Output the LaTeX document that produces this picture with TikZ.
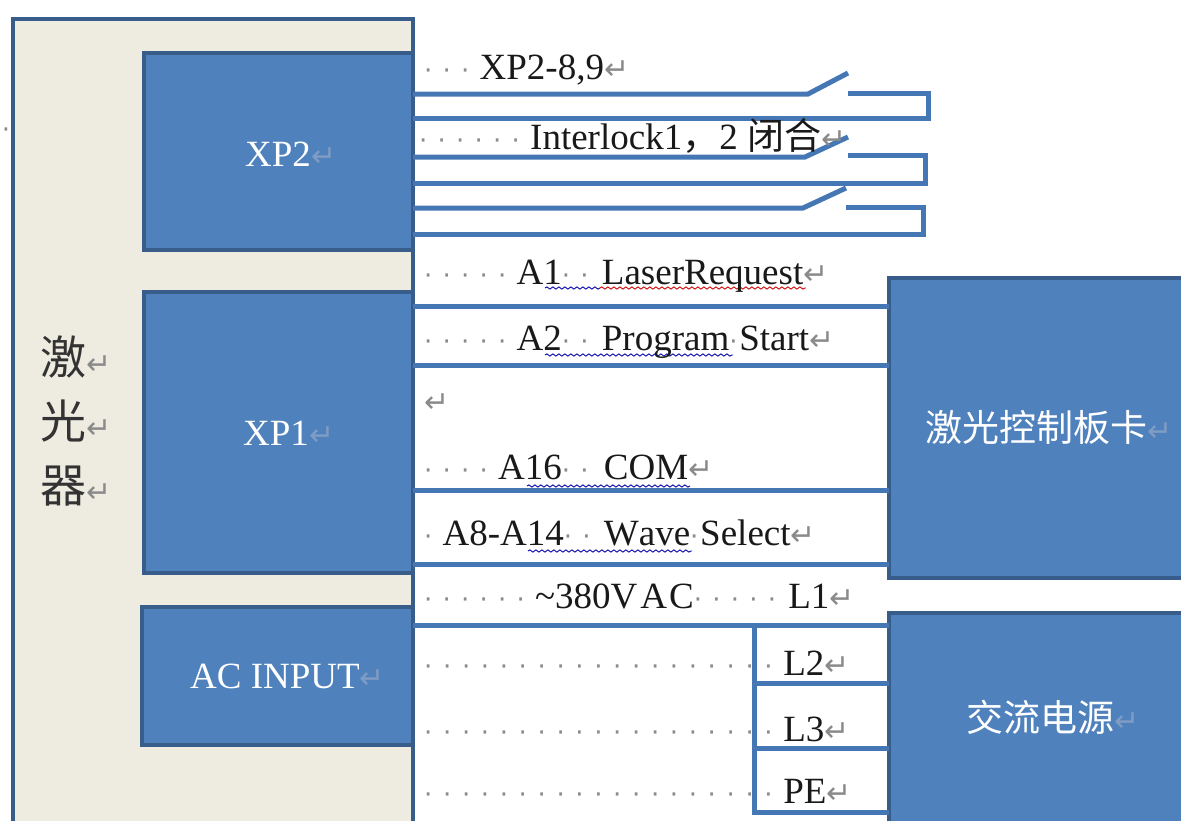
\documentclass[tikz,border=0pt]{standalone}
\usepackage{fontspec}
\setmainfont[Kerning=Off]{Liberation Serif}
\newfontfamily\cjk{Noto Sans CJK SC}
\newfontfamily\symf{DejaVu Sans}
\usetikzlibrary{decorations.pathmorphing}
\definecolor{boxfill}{HTML}{4F81BD}
\definecolor{boxline}{HTML}{385D8A}
\definecolor{wirec}{HTML}{4577B5}
\definecolor{laser}{HTML}{EEECE1}
\definecolor{markc}{HTML}{8A8A8A}
\definecolor{fadec}{HTML}{7F9CC4}
\newcommand{\dt}{\makebox[18.5pt][l]{\textcolor{markc}{\fontsize{26}{28}\selectfont\symf ·}}}
\newcommand{\dtw}{\makebox[18.9pt][l]{\textcolor{markc}{\fontsize{26}{28}\selectfont\symf ·}}}
\newcommand{\dts}{\makebox[10pt][l]{\textcolor{markc}{\fontsize{26}{28}\selectfont\symf ·}}}
\newcommand{\dtn}[1]{\foreach \i in {1,...,#1}{\dt}}
\newcommand{\dtm}[1]{\foreach \i in {1,...,#1}{\dtw}}
\newcommand{\ret}{\textcolor{markc}{\fontsize{30}{32}\selectfont\symf ↵}}
\newcommand{\fret}{\textcolor{fadec}{\fontsize{30}{32}\selectfont\symf ↵}}
\tikzset{
  blockbox/.style={draw=boxline,fill=boxfill,line width=4pt,inner sep=0pt,outer sep=0pt,anchor=north west,line join=miter},
  wire/.style={draw=wirec,line width=5pt,line join=miter,line cap=butt},
  lab/.style={anchor=base west,inner sep=0pt,text=black!90,font=\fontsize{37}{40}\selectfont},
  wlab/.style={anchor=base west,inner sep=0pt,text=white,font=\fontsize{37}{40}\selectfont},
  cjkv/.style={anchor=base west,inner sep=0pt,text=black!80,font=\fontsize{46}{50}\selectfont\cjk},
  bluewave/.style={draw=blue!65!black,line width=0.9pt,decorate,decoration={snake,amplitude=1.1pt,segment length=6pt}},
  redwave/.style={draw=red!80!black,line width=0.9pt,decorate,decoration={snake,amplitude=1.1pt,segment length=6pt}}
}
\begin{document}
\begin{tikzpicture}[x=1pt,y=-1pt]
\useasboundingbox (0,0) rectangle (1181,820);
\fill[white] (0,0) rectangle (1181,820);
% blocks
\node[blockbox,fill=laser,minimum width=400pt,minimum height=830pt] (laserbox) at (12.5,18.5) {};
\node[blockbox,minimum width=269pt,minimum height=197pt] (xp2) at (144,53) {};
\node[blockbox,minimum width=269pt,minimum height=281pt] (xp1) at (144,292) {};
\node[blockbox,minimum width=271pt,minimum height=138pt] (acin) at (142,607) {};
\node[blockbox,minimum width=310pt,minimum height=300pt] (card) at (889,278) {};
\node[blockbox,minimum width=310pt,minimum height=230pt] (power) at (889,613) {};
% wire levels
\coordinate (a1) at (808,94);  \coordinate (a2) at (848,73);
\coordinate (a3) at (848,93);  \coordinate (a4) at (928,93);
\coordinate (a5) at (928,118);
\coordinate (b1) at (805,157); \coordinate (b2) at (848,137);
\coordinate (b3) at (848,155); \coordinate (b4) at (925,155);
\coordinate (b5) at (925,183);
\coordinate (c1) at (803,208); \coordinate (c2) at (846,188);
\coordinate (c3) at (846,207); \coordinate (c4) at (923,207);
\coordinate (c5) at (923,234);
\coordinate (w1) at (0,306);
\coordinate (w2) at (0,365);
\coordinate (w3) at (0,490);
\coordinate (w4) at (0,564);
\coordinate (w5) at (0,625);
\coordinate (w6) at (754,625);
\coordinate (w7) at (754,683);
\coordinate (w8) at (754,748);
\coordinate (w9) at (754,812);
% XP2 interlock switches
\draw[wire] (xp2.east |- a1) -- (a1) -- (a2);
\draw[wire] (a3) -- (a4) -- (a5) -- (xp2.east |- a5);
\draw[wire] (xp2.east |- b1) -- (b1) -- (b2);
\draw[wire] (b3) -- (b4) -- (b5) -- (xp2.east |- b5);
\draw[wire] (xp2.east |- c1) -- (c1) -- (c2);
\draw[wire] (c3) -- (c4) -- (c5) -- (xp2.east |- c5);
% XP1 to card
\draw[wire] (xp1.east |- w1) -- (card.west |- w1);
\draw[wire] (xp1.east |- w2) -- (card.west |- w2);
\draw[wire] (xp1.east |- w3) -- (card.west |- w3);
\draw[wire] (xp1.east |- w4) -- (card.west |- w4);
% AC input to power
\draw[wire] (acin.east |- w5) -- (power.west |- w5);
\draw[wire,line cap=rect] (w6) -- (w9);
\draw[wire] (w7) -- (power.west |- w7);
\draw[wire] (w8) -- (power.west |- w8);
\draw[wire] (w9) -- (power.west |- w9);
% spell-check underlines
\coordinate (u1) at (545,288); \coordinate (u2) at (600,288); \coordinate (u3) at (806,288);
\coordinate (u4) at (545,355); \coordinate (u5) at (733,355);
\coordinate (u6) at (527,486); \coordinate (u7) at (690,486);
\coordinate (u8) at (528,551); \coordinate (u9) at (692,551);
\draw[bluewave] (u1) -- (u2);
\draw[redwave] (u2) -- (u3);
\draw[bluewave] (u4) -- (u5);
\draw[bluewave] (u6) -- (u7);
\draw[bluewave] (u8) -- (u9);
% block labels
\node[wlab] (t1) at (245,166) {XP2\fret};
\node[wlab] (t2) at (243,445) {XP1\fret};
\node[wlab] (t3) at (190,688) {AC INPUT\fret};
\node[wlab,font=\fontsize{37}{40}\selectfont\cjk] (t4) at (925,441) {激光控制板卡\fret};
\node[wlab,font=\fontsize{37}{40}\selectfont\cjk] (t5) at (966,731) {交流电源\fret};
\node[cjkv] (v1) at (40,374) {激\ret};
\node[cjkv] (v2) at (40,438) {光\ret};
\node[cjkv] (v3) at (40,502) {器\ret};
\node[inner sep=0pt,text=markc,font=\fontsize{26}{28}\selectfont\symf] (d0) at (6,133) {·};
% wire labels
\node[lab] (l1) at (424,79) {\dtn{3}XP2-8,9\ret};
\node[lab] (l2) at (419,149) {\dtn{6}Interlock1{\cjk，}2 {\cjk 闭合}\ret};
\node[lab] (l3) at (424,284) {\dtn{5}A1\dtn{2}\hspace{3pt}LaserRequest\ret};
\node[lab] (l4) at (424,350) {\dtn{5}A2\dtn{2}\hspace{3pt}Program\dts Start\ret};
\node[lab] (l5) at (424,412) {\ret};
\node[lab] (l6) at (424,479) {\dtn{4}A16\dtn{2}\hspace{5pt}COM\ret};
\node[lab] (l7) at (424,545) {\dtn{1}A8-A14\dtn{2}\hspace{3pt}Wave\dts Select\ret};
\node[lab] (l8) at (424,608) {\dtn{6}\textasciitilde 380V\hspace{3pt}A\hspace{2pt}C\dtn{5}\hspace{2pt}L1\ret};
\node[lab] (l9) at (424,675) {\dtm{19}L2\ret};
\node[lab] (l10) at (424,741) {\dtm{19}L3\ret};
\node[lab] (l11) at (424,803) {\dtm{19}PE\ret};
\end{tikzpicture}
\end{document}
